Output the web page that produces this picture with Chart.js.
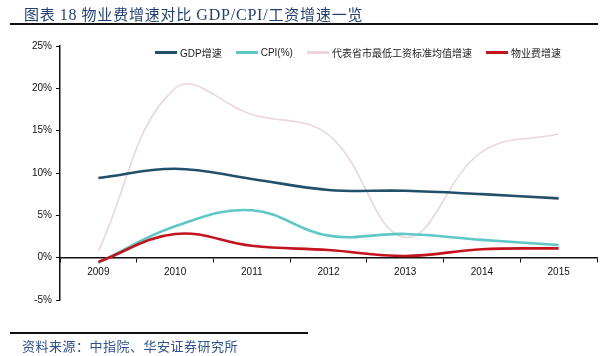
<!DOCTYPE html>
<html><head><meta charset="utf-8">
<script src="https://cdn.jsdelivr.net/npm/chart.js@4/dist/chart.umd.min.js"></script>
<style>
html,body{margin:0;padding:0;background:#fff;width:608px;height:356px;overflow:hidden;}
#wrap{position:relative;width:608px;height:356px;}
#c{position:absolute;left:0;top:0;}
#title{position:absolute;left:24px;top:3px;font-family:"Noto Sans CJK SC","Liberation Serif",serif;font-size:15px;color:#213f78;white-space:nowrap;letter-spacing:0.8px;}
#title .lat{font-family:"Liberation Serif",serif;font-size:16px;}
#rule1{position:absolute;left:10px;top:23px;width:588px;height:1.5px;background:#111;}
#rule2{position:absolute;left:10px;top:332px;width:298px;height:1.5px;background:#111;}
#src{position:absolute;left:22px;top:336px;font-family:"Noto Sans CJK SC",sans-serif;font-size:13px;color:#2f4f95;letter-spacing:0.5px;white-space:nowrap;}
#legend{position:absolute;left:155px;top:45px;display:flex;align-items:center;font-family:"Liberation Sans Narrow","Liberation Sans","Noto Sans CJK SC",sans-serif;font-size:10px;color:#222;white-space:nowrap;}
#legend .it{display:flex;align-items:center;margin-right:14px;}
#legend .ln{width:22px;height:3px;margin-right:3px;}
</style></head>
<body><div id="wrap">
<canvas id="c" width="608" height="356"></canvas>
<div id="title">图表 <span class="lat">18</span> 物业费增速对比 <span class="lat">GDP/CPI/</span>工资增速一览</div>
<div id="rule1"></div>
<div id="legend"></div>
<div id="rule2"></div>
<div id="src">资料来源：中指院、华安证券研究所</div>
</div>
<script>
const years = ['2009','2010','2011','2012','2013','2014','2015'];
const seriesNames = ['GDP增速','CPI(%)','代表省市最低工资标准均值增速','物业费增速'];
const gdp  = [9.4, 10.5, 9.3, 8.0, 7.9, 7.5, 7.0];
const cpi  = [-0.6, 3.7, 5.6, 2.6, 2.8, 2.1, 1.5];
const wage = [0.8, 20.0, 16.9, 14.5, 2.4, 12.5, 14.6];
const fee  = [-0.5, 2.8, 1.4, 0.9, 0.2, 1.0, 1.1];
const yTicks = [-5, 0, 5, 10, 15, 20, 25];

const colors = ['#22506b', '#5ec8c6', '#ecd6da', '#c3141e'];
const widths = [2.6, 2.6, 1.6, 2.6];
const orders = [1, 2, 3, 0];
const values = [gdp, cpi, wage, fee];

const leg = document.getElementById('legend');
seriesNames.forEach((n,i)=>{
  const it=document.createElement('div');it.className='it';
  const ln=document.createElement('div');ln.className='ln';ln.style.background=colors[i];
  const tx=document.createElement('span');tx.textContent=n;
  it.appendChild(ln);it.appendChild(tx);leg.appendChild(it);
});

const tickFont = {family:'"Liberation Sans Narrow","Liberation Sans",sans-serif', size:10};
new Chart(document.getElementById('c'), {
  type:'line',
  data:{
    labels:years,
    datasets: seriesNames.map((n,i)=>({
      label:n, data:values[i], borderColor:colors[i], backgroundColor:colors[i],
      borderWidth:widths[i], pointRadius:0, tension:0.4, fill:false, order:orders[i]
    }))
  },
  options:{
    responsive:false, animation:false,
    layout:{padding:{left:0,right:11,top:46,bottom:56}},
    plugins:{legend:{display:false},tooltip:{enabled:false}},
    scales:{
      x:{
        position:{y:0}, offset:true,
        grid:{display:true, drawOnChartArea:false, drawTicks:true, tickLength:4, color:'#111', offset:true},
        border:{display:true,color:'#111',width:1.5},
        ticks:{color:'#111', font:tickFont, padding:5, maxRotation:0}
      },
      y:{
        min:-5, max:25,
        afterBuildTicks:(s)=>{s.ticks = yTicks.map(v=>({value:v}));},
        afterFit:(s)=>{s.width=60;},
        grid:{display:true, drawOnChartArea:false, drawTicks:true, tickLength:4, color:'#111'},
        border:{display:true,color:'#111',width:1.5},
        ticks:{color:'#111', font:tickFont, padding:4, callback:(v)=>v+'%'}
      }
    }
  }
});
</script>
</body></html>
